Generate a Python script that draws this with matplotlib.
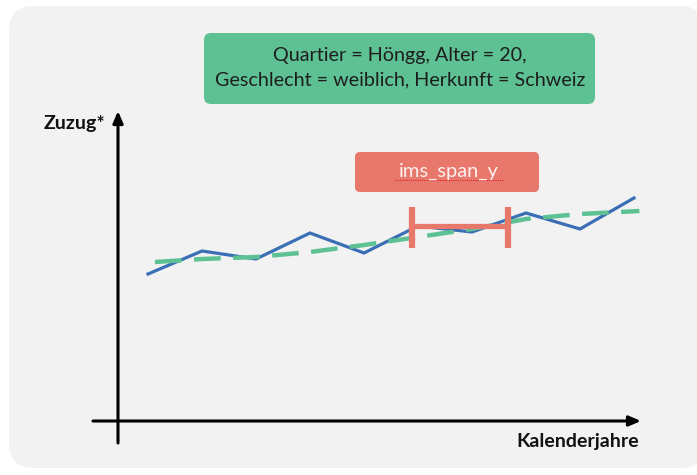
import matplotlib.pyplot as plt
from matplotlib.patches import FancyBboxPatch

# Zuzug per calendar year (index)
years = list(range(10))
zuzug = [14.7, 17.0, 16.2, 18.8, 16.8, 19.5, 18.9, 20.8, 19.2, 22.3]
# smoothed trend (dashed green)
trend_x = [0.13, 1, 2, 3, 4, 5, 6, 7, 8, 9.1]
trend_y = [15.9, 16.2, 16.4, 16.9, 17.6, 18.4, 19.2, 20.2, 20.7, 21.0]
# ims_span_y marker
span_x = [4.89, 6.67]
span_y = 19.5
span_cap = [17.3, 21.4]

info_text = "Quartier = Höngg, Alter = 20,\nGeschlecht = weiblich, Herkunft = Schweiz"
span_label = "ims_span_y"
y_label = "Zuzug*"
x_label = "Kalenderjahre"

blue = '#3A6EB5'
green = '#5DC194'
red = '#E8786C'

W, H = 697, 475
fig = plt.figure(figsize=(W / 100, H / 100), dpi=100)
fig.patch.set_facecolor('white')

# overlay in pixel coords for the decoration
ov = fig.add_axes([0, 0, 1, 1])
ov.set_xlim(0, W)
ov.set_ylim(H, 0)
ov.axis('off')

ov.add_patch(FancyBboxPatch((9 + 25, 6 + 25), 705 - 9 - 50, 468 - 6 - 50,
                            boxstyle="round,pad=25", fc='#F2F2F2', ec='none'))

# info box (green)
ov.add_patch(FancyBboxPatch((204 + 7, 33 + 7), 595 - 204 - 14, 104 - 33 - 14,
                            boxstyle="round,pad=7", fc=green, ec='none'))
ov.text(400, 68, info_text, ha='center', va='center', fontsize=14.2,
        family='Lato', color='#1e1e1e', linespacing=1.5)

# span label box (red)
ov.add_patch(FancyBboxPatch((355 + 5, 152 + 5), 539 - 355 - 10, 192 - 152 - 10,
                            boxstyle="round,pad=5", fc=red, ec='none'))
ov.text(449, 171, span_label, ha='center', va='center', fontsize=14.5,
        family='Lato', color='#fdf0ee')
ov.plot([395, 503], [180, 180], color='#e0202a', lw=0.8, ls=(0, (1, 1)))

# axis arrows
ov.annotate('', xy=(118, 111), xytext=(118, 443),
            arrowprops=dict(arrowstyle='-|>,head_length=0.7,head_width=0.3',
                            color='black', lw=2.2, shrinkA=0, shrinkB=0))
ov.annotate('', xy=(641, 421), xytext=(93, 421),
            arrowprops=dict(arrowstyle='-|>,head_length=0.7,head_width=0.3',
                            color='black', lw=2.2, shrinkA=0, shrinkB=0))
ov.text(74, 124, y_label, ha='center', va='center', fontsize=14,
        family='Lato', fontweight='bold', color='#111111')
ov.text(639, 441, x_label, ha='right', va='center', fontsize=14,
        family='Lato', fontweight='bold', color='#111111')

# data axes: pixel box 118..640 x 112..421
ax = fig.add_axes([118 / W, (H - 421) / H, (640 - 118) / W, (421 - 112) / H])
ax.patch.set_alpha(0)
ax.axis('off')
ax.set_xlim((118 - 148) / 54, (640 - 148) / 54)
ax.set_ylim(0, (421 - 112) / 10)

ax.plot(years, zuzug, color=blue, lw=2.3, solid_joinstyle='miter')
ax.plot(trend_x, trend_y, color=green, lw=3.2, dashes=(6, 2.8))
ax.plot(span_x, [span_y, span_y], color=red, lw=3.8, solid_capstyle='butt')
for sx in span_x:
    ax.plot([sx, sx], span_cap, color=red, lw=4.5, solid_capstyle='butt')

fig.savefig('out.png', dpi=100)
